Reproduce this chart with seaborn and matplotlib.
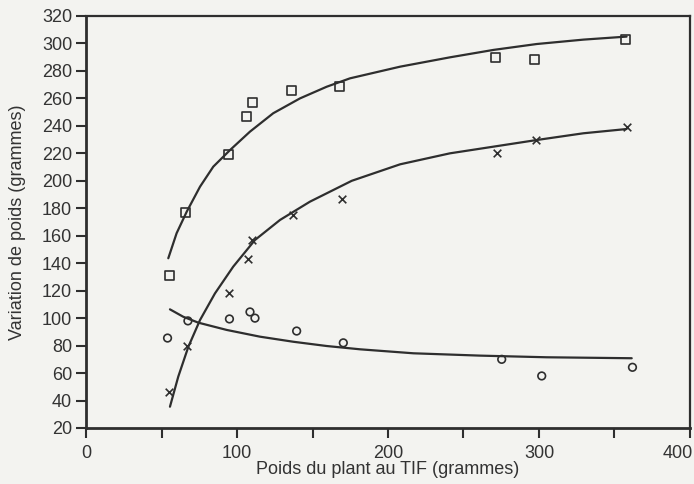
import matplotlib
matplotlib.use("Agg")
import matplotlib.pyplot as plt
import matplotlib.transforms as mtrans
import seaborn as sns
import pandas as pd

# --- data ---
sq_x = [55, 65.6, 94.7, 106.6, 110, 136.4, 168, 271, 297, 357.6]
sq_y = [131, 177, 219, 246.5, 256.7, 265.4, 269, 290, 288, 302.6]

cr_x = [55, 67, 94.7, 107, 110, 137, 169.5, 272, 298, 358]
cr_y = [46, 80, 118, 143, 157, 175, 187, 220, 230, 239]

ci_x = [54, 67.5, 95, 108.6, 111.9, 139.5, 170.4, 275.3, 301.8, 361.9]
ci_y = [85.5, 98, 99.4, 104.5, 100, 90.6, 82, 70, 57.9, 64.2]

# fitted curves
sq_cx = [54.5, 60, 66.7, 75.5, 84.3, 95.4, 108.6, 124, 141.7, 159.4, 174.8,
         208, 241, 269.8, 298.5, 329.4, 358]
sq_cy = [143.6, 161.8, 177.5, 195.7, 210.3, 222.4, 235.8, 249.2, 260, 268.5,
         274.6, 283.1, 289.9, 295.3, 299.6, 302.8, 305]

cr_cx = [55.6, 61.1, 67.8, 75.5, 85.4, 97.5, 111.9, 128.5, 148.3, 176, 208,
         241, 274.2, 298.5, 329.4, 358]
cr_cy = [35.5, 57.4, 79.2, 98.6, 118, 137.5, 156.9, 171.5, 184.8, 200, 212,
         220, 225.6, 229.7, 234.6, 237.7]

ci_cx = [55.6, 64.4, 74.4, 93.2, 115.2, 137.3, 159.4, 181.5, 216.8, 261,
         305, 361.4]
ci_cy = [106.4, 101, 96.7, 91.4, 86.5, 82.8, 79.7, 77.3, 74.4, 72.7, 71.5,
         70.8]

x_ticks = [0, 100, 200, 300, 400]
x_minor = [50, 150, 250, 350]
y_ticks = list(range(20, 321, 20))

x_label = "Poids du plant au TIF (grammes)"
y_label = "Variation de poids (grammes)"

# --- styling ---
sns.set_theme(style="ticks")
plt.rcParams['font.family'] = ['Liberation Sans', 'DejaVu Sans']
bg = "#f3f3f0"
ink = "#2e2e2e"
txt = "#333333"

fig = plt.figure(figsize=(6.94, 4.84), dpi=100, facecolor=bg)
ax = fig.add_axes([86 / 694, 56 / 484, 604 / 694, 412 / 484])
ax.set_facecolor(bg)

for cx, cy in [(sq_cx, sq_cy), (cr_cx, cr_cy), (ci_cx, ci_cy)]:
    df = pd.DataFrame({"x": cx, "y": cy})
    sns.lineplot(data=df, x="x", y="y", ax=ax, sort=False, estimator=None,
                 color=ink, lw=1.6)

sns.scatterplot(x=sq_x, y=sq_y, ax=ax, marker="s", s=42, facecolor="none",
                edgecolor=ink, linewidth=1.2, zorder=3)
sns.scatterplot(x=cr_x, y=cr_y, ax=ax, marker="x", s=30, color=ink,
                linewidth=1.2, zorder=3)
sns.scatterplot(x=ci_x, y=ci_y, ax=ax, marker="o", s=30, facecolor="none",
                edgecolor=ink, linewidth=1.2, zorder=3)

ax.set_xlim(0, 400)
ax.set_ylim(20, 320)
ax.set_xticks(x_ticks)
ax.set_xticks(x_minor, minor=True)
ax.set_yticks(y_ticks)
ax.tick_params(axis="both", which="both", direction="out", length=7,
               width=1.5, color=ink, labelcolor=txt, labelsize=13)
ax.tick_params(axis="x", which="major", pad=5)
ax.tick_params(axis="y", which="major", pad=3)
for sp in ax.spines.values():
    sp.set_color(ink)
    sp.set_linewidth(1.6)
ax.spines["left"].set_linewidth(2)
ax.spines["bottom"].set_linewidth(2)

# keep the last x tick label inside the figure
last = ax.get_xticklabels()[-1]
last.set_horizontalalignment("right")
last.set_transform(last.get_transform() +
                   mtrans.ScaledTranslation(3 / 100, 0, fig.dpi_scale_trans))

ax.set_xlabel(x_label, fontsize=13, color=txt)
ax.set_ylabel(y_label, fontsize=13, color=txt)
ax.xaxis.label.set_va("center")
ax.yaxis.label.set_va("center")
ax.xaxis.set_label_coords(0.5, -0.10)
ax.yaxis.set_label_coords(-0.1126, 0.5)

fig.savefig("out.png", dpi=100, facecolor=bg)
